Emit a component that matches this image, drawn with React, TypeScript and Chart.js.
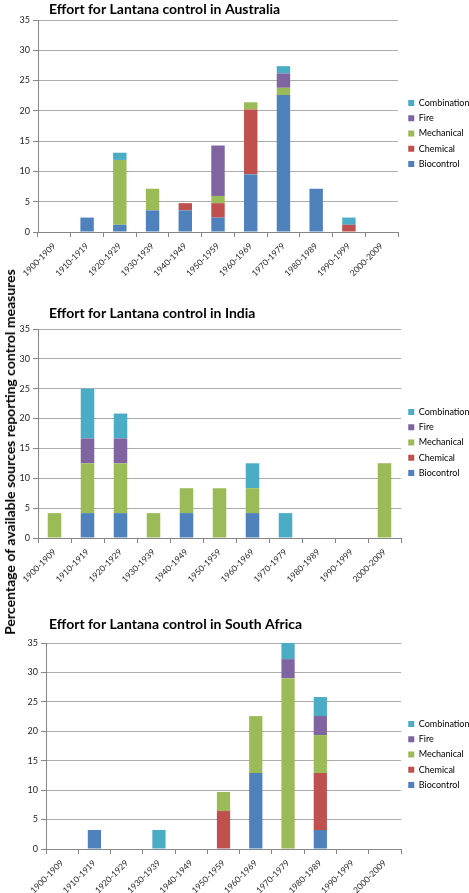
import React, { useEffect, useRef } from 'react';
import { Chart, registerables } from 'chart.js';

Chart.register(...registerables);

const decades = ['1900-1909', '1910-1919', '1920-1929', '1930-1939', '1940-1949', '1950-1959', '1960-1969', '1970-1979', '1980-1989', '1990-1999', '2000-2009'];
const seriesNames = ['Biocontrol', 'Chemical', 'Mechanical', 'Fire', 'Combination'];
const seriesColors = ['#4F81BD', '#C0504D', '#9BBB59', '#8064A2', '#4BACC6'];
const yMin = 0;
const yMax = 35;
const yStep = 5;

// Australia
const ausBio = [0, 2.38, 1.19, 3.57, 3.57, 2.38, 9.52, 22.62, 7.14, 0, 0];
const ausChem = [0, 0, 0, 0, 1.19, 2.38, 10.71, 0, 0, 1.19, 0];
const ausMech = [0, 0, 10.71, 3.57, 0, 1.19, 1.19, 1.19, 0, 0, 0];
const ausFire = [0, 0, 0, 0, 0, 8.33, 0, 2.38, 0, 0, 0];
const ausComb = [0, 0, 1.19, 0, 0, 0, 0, 1.19, 0, 1.19, 0];

// India
const indBio = [0, 4.17, 4.17, 0, 4.17, 0, 4.17, 0, 0, 0, 0];
const indChem = [0, 0, 0, 0, 0, 0, 0, 0, 0, 0, 0];
const indMech = [4.17, 8.33, 8.33, 4.17, 4.17, 8.33, 4.17, 0, 0, 0, 12.5];
const indFire = [0, 4.17, 4.17, 0, 0, 0, 0, 0, 0, 0, 0];
const indComb = [0, 8.33, 4.17, 0, 0, 0, 4.17, 4.17, 0, 0, 0];

// South Africa
const saBio = [0, 3.23, 0, 0, 0, 0, 12.9, 0, 3.23, 0, 0];
const saChem = [0, 0, 0, 0, 0, 6.45, 0, 0, 9.68, 0, 0];
const saMech = [0, 0, 0, 0, 0, 3.23, 9.68, 29.03, 6.45, 0, 0];
const saFire = [0, 0, 0, 0, 0, 0, 0, 3.23, 3.23, 0, 0];
const saComb = [0, 0, 0, 3.23, 0, 0, 0, 3.23, 3.23, 0, 0];

const titles = [
  'Effort for Lantana control in Australia',
  'Effort for Lantana control in India',
  'Effort for Lantana control in South Africa',
];
const yAxisTitle = 'Percentage of available sources reporting control measures';

const FONT = 'Lato, "Open Sans", "DejaVu Sans", sans-serif';
const W = 469;
const LEGEND_FONT = 9;
const LEGEND_PAD = 6.25;

const layoutFix = {
  id: 'layoutFix',
  beforeLayout(chart: any, _args: any, opts: any) {
    const lg = chart.legend;
    if (lg && !lg.__patched) {
      const f = lg.fit.bind(lg);
      lg.fit = function () {
        f();
        this.width = opts.legendWidth;
      };
      lg.__patched = true;
    }
  },
  afterLayout(chart: any, _args: any, opts: any) {
    const tb = chart.titleBlock;
    if (tb) {
      const w = tb.right - tb.left;
      tb.left = opts.titleX;
      tb.right = opts.titleX + w;
    }
    const lg = chart.legend;
    if (lg) {
      const w = lg.width;
      const h = lg.bottom - lg.top;
      lg.left = opts.legendX;
      lg.right = opts.legendX + w;
      lg.top = opts.legendFirst - LEGEND_FONT / 2 - LEGEND_PAD;
      lg.bottom = lg.top + h;
    }
  },
};

type PanelProps = {
  title: string;
  values: number[][];
  top: number;
  plotTop: number;
  plotBottom: number;
  plotLeft: number;
  plotRight: number;
  bottomRoom: number;
  legendFirst: number;
};

function Panel({ title, values, top, plotTop, plotBottom, plotLeft, plotRight, bottomRoom, legendFirst }: PanelProps) {
  const ref = useRef<HTMLCanvasElement | null>(null);
  const height = plotBottom + bottomRoom - top;
  const titleLine = 18;
  const titlePadBottom = plotTop - top - titleLine;
  useEffect(() => {
    if (!ref.current) return;
    const chart = new Chart(ref.current, {
      type: 'bar',
      data: {
        labels: decades,
        datasets: seriesNames.map((name, i) => ({
          label: name,
          data: values[i],
          backgroundColor: seriesColors[i],
          borderWidth: 0,
          barPercentage: 0.41,
          categoryPercentage: 1,
        })),
      },
      options: {
        animation: false,
        responsive: false,
        devicePixelRatio: 1,
        layout: { padding: 0 },
        plugins: {
          title: {
            display: true,
            text: title,
            align: 'start',
            color: '#000000',
            font: { family: FONT, size: 14, weight: 'bold', lineHeight: titleLine / 14 },
            padding: { top: 0, bottom: titlePadBottom },
          },
          legend: {
            position: 'right',
            align: 'start',
            reverse: true,
            labels: {
              boxWidth: 6,
              boxHeight: 6,
              padding: LEGEND_PAD,
              color: '#000000',
              font: { family: FONT, size: LEGEND_FONT },
            },
          },
          tooltip: { enabled: false },
          layoutFix: {
            legendWidth: W - plotRight,
            legendX: 402,
            legendFirst: legendFirst - top,
            titleX: 49,
          },
        } as any,
        scales: {
          x: {
            stacked: true,
            grid: {
              display: true,
              drawOnChartArea: false,
              drawTicks: true,
              tickLength: 5,
              offset: true,
              color: '#868686',
            },
            border: { color: '#868686' },
            ticks: {
              minRotation: 45,
              maxRotation: 45,
              autoSkip: false,
              padding: 4,
              color: '#262626',
              font: { family: FONT, size: 8.5 },
            },
            afterFit: (s: any) => {
              s.height = bottomRoom;
            },
          },
          y: {
            stacked: true,
            min: yMin,
            max: yMax,
            ticks: {
              stepSize: yStep,
              padding: 3,
              color: '#262626',
              font: { family: FONT, size: 9 },
            },
            grid: {
              color: '#adadad',
              tickColor: '#868686',
              tickLength: 5,
              drawTicks: true,
            },
            border: { color: '#868686' },
            afterFit: (s: any) => {
              s.width = plotLeft;
            },
          },
        },
      },
      plugins: [layoutFix as any],
    });
    return () => chart.destroy();
  }, []);
  return (
    <canvas
      ref={ref}
      width={W}
      height={height}
      style={{ position: 'absolute', left: 0, top, width: W, height }}
    />
  );
}

export default function App() {
  return (
    <div style={{ position: 'absolute', left: 0, top: 0, width: W, height: 893, background: '#ffffff', overflow: 'hidden' }}>
      <Panel title={titles[0]} values={[ausBio, ausChem, ausMech, ausFire, ausComb]} top={0} plotTop={20} plotBottom={232} plotLeft={38} plotRight={398} bottomRoom={48} legendFirst={103} />
      <Panel title={titles[1]} values={[indBio, indChem, indMech, indFire, indComb]} top={304} plotTop={329} plotBottom={538} plotLeft={38} plotRight={401} bottomRoom={48} legendFirst={412} />
      <Panel title={titles[2]} values={[saBio, saChem, saMech, saFire, saComb]} top={615} plotTop={643} plotBottom={849} plotLeft={46} plotRight={401} bottomRoom={44} legendFirst={724} />
      <div
        style={{
          position: 'absolute',
          left: 10,
          top: 452,
          transform: 'translate(-50%, -50%) rotate(-90deg)',
          whiteSpace: 'nowrap',
          fontFamily: FONT,
          fontWeight: 'bold',
          fontSize: 14,
          color: '#000000',
          lineHeight: 1,
        }}
      >
        {yAxisTitle}
      </div>
    </div>
  );
}
